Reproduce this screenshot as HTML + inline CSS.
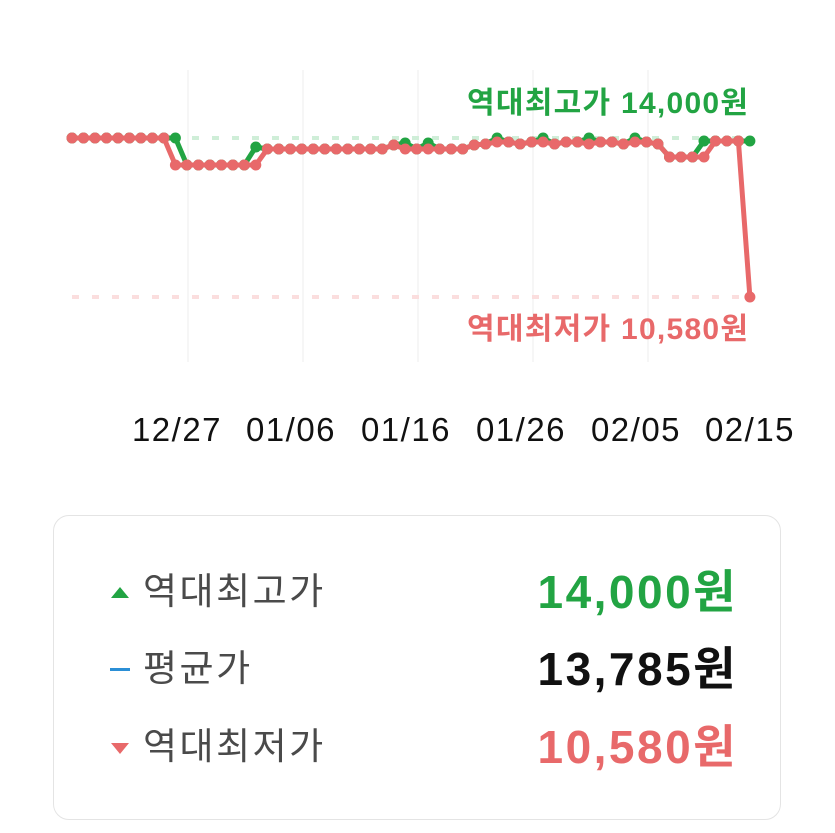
<!DOCTYPE html>
<html><head><meta charset="utf-8">
<style>
body{margin:0;background:#fff;width:835px;height:833px;overflow:hidden;font-family:"Liberation Sans","Noto Sans CJK KR",sans-serif;}
svg{position:absolute;left:0;top:0}
.card{position:absolute;left:53px;top:515px;width:728px;height:305px;border:1.5px solid #e4e4e4;border-radius:16px;box-sizing:border-box}
.row{position:absolute;left:0;width:100%;height:50px}
.lab{position:absolute;left:89px;top:0;font-size:37px;letter-spacing:2.5px;color:#4a4a4a;line-height:50px}
.val{position:absolute;right:42px;top:0;font-size:46px;letter-spacing:2.5px;font-weight:bold;line-height:50px}
</style></head><body>
<svg id="s" width="835" height="833" xmlns="http://www.w3.org/2000/svg">
<g stroke="#f3f3f3" stroke-width="1.5">
<line x1="188" y1="70" x2="188" y2="362"/><line x1="303" y1="70" x2="303" y2="362"/><line x1="418" y1="70" x2="418" y2="362"/><line x1="533" y1="70" x2="533" y2="362"/><line x1="648" y1="70" x2="648" y2="362"/>
</g>
<line x1="72" y1="138" x2="750" y2="138" stroke="#cfeed8" stroke-width="4" stroke-dasharray="7,13"/>
<line x1="72" y1="297" x2="750" y2="297" stroke="#fbdede" stroke-width="4" stroke-dasharray="7,13"/>
<text x="748" y="113" text-anchor="end" font-size="30" font-weight="bold" fill="#22a443" font-family="Liberation Sans, Noto Sans CJK KR, sans-serif" textLength="281">역대최고가 14,000원</text>
<text x="748" y="339" text-anchor="end" font-size="30" font-weight="bold" fill="#e8696a" font-family="Liberation Sans, Noto Sans CJK KR, sans-serif" textLength="281">역대최저가 10,580원</text>
<g font-size="33" fill="#111" text-anchor="middle" font-family="Liberation Sans, sans-serif" letter-spacing="1.5">
<text x="177" y="441">12/27</text><text x="291" y="441">01/06</text><text x="406" y="441">01/16</text><text x="521" y="441">01/26</text><text x="636" y="441">02/05</text><text x="750" y="441">02/15</text>
</g>
<g id="g"></g><g id="r"></g>
</svg>
<div class="card">
<div class="row" style="top:51px"><svg width="20" height="14" style="left:56px;top:19px"><polygon points="10,1 19,12 1,12" fill="#22a443"/></svg><div class="lab">역대최고가</div><div class="val" style="color:#22a443">14,000원</div></div>
<div class="row" style="top:128px"><svg width="20" height="14" style="left:56px;top:19px"><rect x="0" y="5" width="20" height="3" fill="#2b8fd6"/></svg><div class="lab">평균가</div><div class="val" style="color:#111">13,785원</div></div>
<div class="row" style="top:206px"><svg width="20" height="14" style="left:56px;top:19px"><polygon points="1,2 19,2 10,13" fill="#e8696a"/></svg><div class="lab">역대최저가</div><div class="val" style="color:#e8696a">10,580원</div></div>
</div>
<script>
var N=60,red=[],grn=[];
for(var i=0;i<N;i++){var y;
if(i<=8)y=138;else if(i<=16)y=165;else if(i<=27)y=149;else if(i==28)y=145;else if(i<=34)y=149;else if(i==35)y=145;else if(i<=51)y=(i%3==0?144:142);else if(i<=55)y=157;else if(i<=58)y=141;else y=297;
red.push(y);var g=y;
if(i==9)g=138;if(i==16)g=147;if(i==55)g=141;if(i==59)g=141;if(i>=35&&i<=51&&i%4==1)g=138;if(i==29||i==31)g=143;
grn.push(g);}
function draw(id,arr,c){var el=document.getElementById(id),pts=[],h='';
for(var i=0;i<N;i++){var x=72+i*11.49;pts.push(x.toFixed(1)+','+arr[i]);h+='<circle cx="'+x.toFixed(1)+'" cy="'+arr[i]+'" r="5.5" fill="'+c+'"/>';}
el.innerHTML='<polyline points="'+pts.join(' ')+'" fill="none" stroke="'+c+'" stroke-width="5" stroke-linejoin="round"/>'+h;}
draw('g',grn,'#22a443');draw('r',red,'#e8696a');
</script>
</body></html>
